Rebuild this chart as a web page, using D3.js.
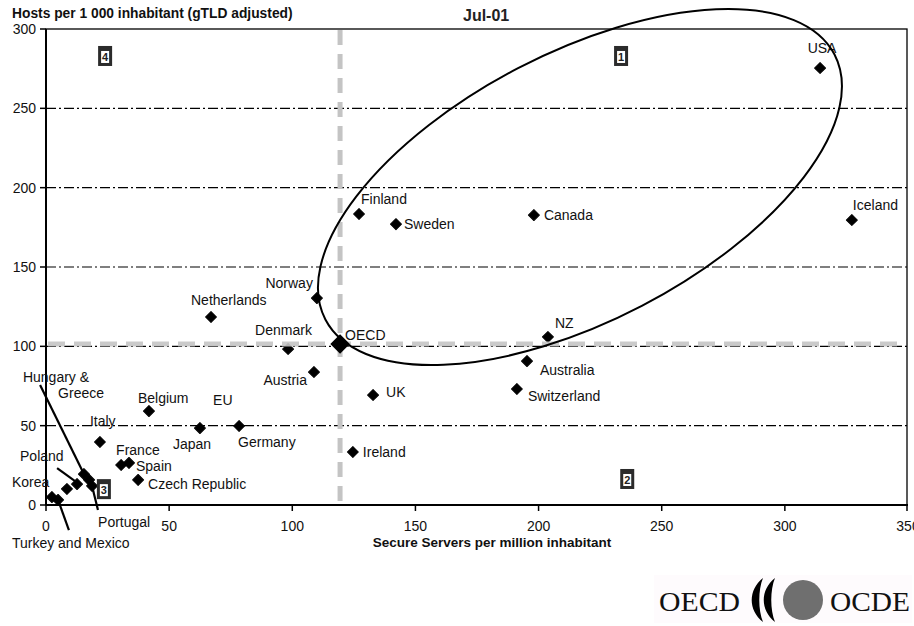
<!DOCTYPE html>
<html><head><meta charset="utf-8">
<script src="https://cdn.jsdelivr.net/npm/d3@7"></script>
<style>body{margin:0;background:#fff}svg{display:block}</style>
</head><body><svg id="c" width="914" height="626"></svg>
<script>
// ---- data ----
const countries = ["USA","Iceland","Canada","Finland","Sweden","Norway","Netherlands","Denmark","NZ","Australia","Switzerland","Austria","UK","Ireland","Belgium","Japan","Germany","Italy","France","Spain","Czech Republic","Hungary","Greece","Portugal","Poland","Korea","Turkey","Mexico"];
const secureServers = [314.3,327.2,198.1,127.1,142.1,110.0,67.0,98.3,203.8,195.3,191.2,108.8,132.8,124.6,41.8,62.5,78.4,21.9,30.5,33.7,37.4,15.4,17.5,18.7,12.6,8.5,2.4,4.9];
const hostsPer1000 = [275.4,179.6,182.7,183.4,177.0,130.4,118.5,98.3,105.9,90.7,73.1,83.8,69.3,33.4,59.2,48.5,49.8,39.7,25.2,26.5,15.8,19.5,15.8,12.0,13.2,10.1,5.0,3.2];
const pointLabels = ["USA","Iceland","Canada","Finland","Sweden","Norway","Netherlands","Denmark","NZ","Australia","Switzerland","Austria","UK","Ireland","Belgium","Japan","Germany","Italy","France","Spain","Czech Republic","Hungary &","Greece","Portugal","Poland","Korea","Turkey and Mexico",""];
const oecdAvg = {name:"OECD", x:119.4, y:101.4};
const euAvg = {name:"EU", x:65.4, y:52.3};
const xTicks = [0,50,100,150,200,250,300,350];
const yTicks = [0,50,100,150,200,250,300];
const quadrants = [{n:"1",x:233.5,y:283},{n:"4",x:24,y:283},{n:"2",x:236,y:16.4},{n:"3",x:23.5,y:10}];
const leaders = [[[-2.4,75.6],[15.4,19.5]],[[21.1,-3.2],[18.7,12.0]],[[4.5,23.3],[11.8,15.1]],[[4.9,3.2],[9.3,-15.8]]];
const clusterCentre = {x:216.8, y:200.4};
const title = "Jul-01", yTitle = "Hosts per 1 000 inhabitant (gTLD adjusted)", xTitle = "Secure Servers per million inhabitant";

// ---- label placement (pixel offsets) ----
const labelPos = {
 "USA":["middle",2,-20],"Iceland":["start",1,-15],"Canada":["start",10,0],"Finland":["start",2,-15],
 "Sweden":["start",8,0],"Norway":["end",-4,-15],"Netherlands":["start",-20,-17],"Denmark":["start",-33,-19],
 "NZ":["start",7,-14],"Australia":["start",13,9],"Switzerland":["start",11,7],"Austria":["end",-7,8],
 "UK":["start",13,-3],"Ireland":["start",10,0],"Belgium":["start",-11,-13],"Japan":["start",-27,16],
 "Germany":["start",-1,16],"Italy":["start",-10,-21],"France":["start",-5,-15],"Spain":["start",7,3],
 "Czech Republic":["start",10,4],"Hungary":["start",-61,-97],"Greece":["start",-31,-87],"Portugal":["start",6,36],
 "Poland":["start",-57,-28],"Korea":["start",-55,-7],"Turkey":["start",-40,46],"Mexico":["start",0,0],
 "OECD":["start",5,-9],"EU":["start",6,-22]
};

const SANS = "'Liberation Sans',Arial,sans-serif", SERIF = "'Liberation Serif','Times New Roman',serif";
const svg = d3.select("#c");
svg.append("rect").attr("width",914).attr("height",626).attr("fill","#fff");
const L=46,R=908,T=29,B=505;
const x = d3.scaleLinear().domain([0,350]).range([L,R]);
const y = d3.scaleLinear().domain([0,300]).range([B,T]);
const FS = 14;

// gridlines (dash-dot)
svg.append("g").selectAll("line").data(yTicks.filter(d=>d>0&&d<300)).join("line")
 .attr("x1",L).attr("x2",R-1).attr("y1",d=>y(d)).attr("y2",d=>y(d))
 .attr("stroke","#000").attr("stroke-width",1.2).attr("stroke-dasharray","10,3,2,3");

// points
const pts = countries.map((c,i)=>({name:c,label:pointLabels[i],x:secureServers[i],y:hostsPer1000[i]}));
const sq = d3.symbol().type(d3.symbolSquare).size(60);
svg.append("g").selectAll("path").data(pts).join("path")
 .attr("d",sq).attr("transform",d=>`translate(${x(d.x)},${y(d.y)}) rotate(45)`)
 .attr("fill","#000").attr("stroke","#000").attr("stroke-width",1).attr("stroke-linejoin","round");

// gray average lines
svg.append("line").attr("x1",x(oecdAvg.x)).attr("x2",x(oecdAvg.x)).attr("y1",T+1).attr("y2",B-3)
 .attr("stroke","#c4c4c4").attr("stroke-width",5).attr("stroke-dasharray","15,9");
svg.append("line").attr("x1",L+2).attr("x2",R-2).attr("y1",y(oecdAvg.y)).attr("y2",y(oecdAvg.y))
 .attr("stroke","#c4c4c4").attr("stroke-width",5).attr("stroke-dasharray","17,9").attr("stroke-opacity",0.9);

// OECD marker
svg.append("path").attr("d",d3.symbol().type(d3.symbolSquare).size(190))
 .attr("transform",`translate(${x(oecdAvg.x)},${y(oecdAvg.y)}) rotate(45)`).attr("fill","#000");
// EU marker (X)
svg.append("path").attr("d",d3.symbol().type(d3.symbolTimes).size(110))
 .attr("transform",`translate(${x(euAvg.x)},${y(euAvg.y)})`).attr("fill","#000");

// frame & axes
svg.append("rect").attr("x",L).attr("y",T).attr("width",R-L-1).attr("height",B-T)
 .attr("fill","none").attr("stroke","#000").attr("stroke-width",1.3);
svg.append("line").attr("x1",L).attr("x2",L).attr("y1",T).attr("y2",B).attr("stroke","#000").attr("stroke-width",2);
svg.append("line").attr("x1",L).attr("x2",R).attr("y1",B).attr("y2",B).attr("stroke","#000").attr("stroke-width",2);
svg.append("g").selectAll("line").data(yTicks).join("line")
 .attr("x1",L-6).attr("x2",L).attr("y1",d=>y(d)).attr("y2",d=>y(d)).attr("stroke","#000").attr("stroke-width",1.5);
svg.append("g").selectAll("line").data(xTicks).join("line")
 .attr("y1",B).attr("y2",B+6).attr("x1",d=>Math.min(x(d),R-1)).attr("x2",d=>Math.min(x(d),R-1)).attr("stroke","#000").attr("stroke-width",1.5);
const txt = (sel)=>sel.style("font-family",SANS).style("fill","#111");
txt(svg.append("g").selectAll("text").data(yTicks).join("text"))
 .attr("x",L-10).attr("y",d=>y(d)+5).attr("text-anchor","end").attr("font-size",FS).text(d=>d);
txt(svg.append("g").selectAll("text").data(xTicks).join("text"))
 .attr("x",d=>x(d)).attr("y",B+26).attr("text-anchor","middle").attr("font-size",FS).text(d=>d);

// titles
txt(svg.append("text")).attr("x",12).attr("y",18).attr("font-size",13.8).attr("font-weight","bold").text(yTitle);
txt(svg.append("text")).attr("x",463).attr("y",21).attr("font-size",16).attr("font-weight","bold").style("fill","#222").text(title);
txt(svg.append("text")).attr("x",492).attr("y",547).attr("text-anchor","middle").attr("font-size",13.5).attr("font-weight","bold").text(xTitle);

// leader lines
svg.append("g").selectAll("line").data(leaders).join("line")
 .attr("x1",d=>x(d[0][0])).attr("y1",d=>y(d[0][1])).attr("x2",d=>x(d[1][0])).attr("y2",d=>y(d[1][1]))
 .attr("stroke","#000").attr("stroke-width",2.2);

// labels
const allLab = pts.filter(d=>d.label).concat([{name:"OECD",label:"OECD",x:oecdAvg.x,y:oecdAvg.y},{name:"EU",label:"EU",x:euAvg.x,y:euAvg.y}]);
txt(svg.append("g").selectAll("text").data(allLab).join("text"))
 .attr("x",d=>x(d.x)+labelPos[d.name][1]).attr("y",d=>y(d.y)+labelPos[d.name][2]+5)
 .attr("text-anchor",d=>labelPos[d.name][0]).attr("font-size",FS).text(d=>d.label);

// ellipse around cluster 1
svg.append("ellipse").attr("cx",0).attr("cy",0).attr("rx",287).attr("ry",134)
 .attr("transform",`translate(${x(clusterCentre.x)},${y(clusterCentre.y)}) rotate(-27.5)`)
 .attr("fill","none").attr("stroke","#000").attr("stroke-width",2);

// quadrant boxes
const qb = svg.append("g").selectAll("g").data(quadrants).join("g")
 .attr("transform",d=>`translate(${x(d.x)},${y(d.y)})`);
qb.append("rect").attr("x",-7).attr("y",-10).attr("width",14).attr("height",20).attr("fill","#2b2b2b");
qb.append("rect").attr("x",-4).attr("y",-5).attr("width",8).attr("height",12).attr("fill","#fff");
qb.append("text").attr("x",0).attr("y",5).attr("text-anchor","middle").attr("font-size",11).attr("font-weight","bold")
 .style("font-family",SANS).style("fill","#222").text(d=>d.n);

// OECD logo
const lg = svg.append("g");
lg.append("rect").attr("x",654).attr("y",575).attr("width",258).attr("height",48).attr("fill","#fefbfd");
lg.append("text").attr("x",659).attr("y",611).attr("font-size",28).attr("textLength",81).attr("lengthAdjust","spacingAndGlyphs")
 .style("font-family",SERIF).style("fill","#111").text("OECD");
lg.append("text").attr("x",830).attr("y",611).attr("font-size",28).attr("textLength",80).attr("lengthAdjust","spacingAndGlyphs")
 .style("font-family",SERIF).style("fill","#111").text("OCDE");
[756,768].forEach(cx=>{
 lg.append("path").attr("d",`M${cx+7},578 C${cx-8},590 ${cx-8},610 ${cx+7},622 C${cx+2},610 ${cx+2},590 ${cx+7},578 Z`).attr("fill","#000");
});
lg.append("circle").attr("cx",803).attr("cy",600).attr("r",20).attr("fill","#6f6f6f");
</script></body></html>
